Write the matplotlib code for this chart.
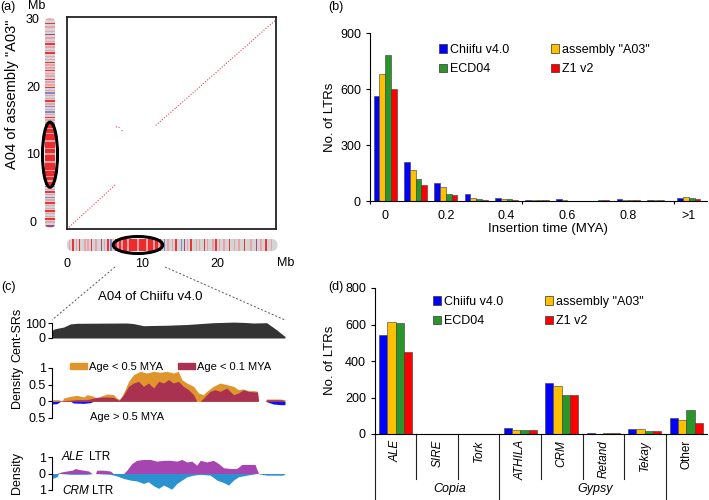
import matplotlib
matplotlib.use("Agg")
import matplotlib.pyplot as plt
import matplotlib.transforms as mtransforms
from matplotlib.patches import FancyBboxPatch, Ellipse, Patch
from matplotlib.lines import Line2D

# ---------------- data ----------------
# (a) collinear blocks: Chiifu v4.0 A04 (x, Mb) vs assembly "A03" A04 (y, Mb)
blk_chiifu_start = [0.0, 6.5, 7.3, 11.8, 14.5]
blk_chiifu_end = [6.4, 7.0, 7.4, 14.5, 27.8]
blk_a03_start = [0.0, 15.1, 14.6, 15.3, 17.9]
blk_a03_end = [6.5, 15.0, 14.3, 17.9, 30.9]

# ideogram bands (Mb) and class: r = young, p = mid, b = old, m = mixed
a03_core = (5.6, 14.6)
a03_band_pos = [30.0, 29.4, 28.9, 28.3, 27.8, 27.3, 26.8, 26.4, 26.0, 25.5, 25.1, 24.6,
                24.1, 23.7, 23.3, 22.9, 22.5, 22.1, 21.7, 21.2, 20.8, 20.4, 20.0, 19.6,
                19.2, 18.8, 18.4, 18.0, 17.6, 17.2, 16.8, 16.4, 16.0, 15.6, 15.2, 14.8,
                14.0, 13.2, 12.1, 11.0, 10.2, 9.0, 7.8, 6.9, 6.2,
                5.4, 5.0, 4.6, 4.2, 3.8, 3.4, 3.0, 2.6, 2.2, 1.8, 1.4, 1.0, 0.6, 0.2, -0.4]
a03_band_cls = ['p', 'r', 'p', 'p', 'm', 'p', 'p', 'r', 'p', 'p', 'r', 'p',
                'p', 'r', 'p', 'p', 'r', 'p', 'p', 'r', 'p', 'p', 'r', 'p',
                'b', 'p', 'p', 'r', 'p', 'b', 'p', 'b', 'p', 'r', 'p', 'p',
                'p', 'p', 'p', 'p', 'p', 'p', 'p', 'p', 'p',
                'b', 'p', 'r', 'p', 'b', 'p', 'r', 'p', 'p', 'r', 'p', 'p', 'r', 'p', 'm']

chiifu_core = (6.3, 12.5)
chiifu_band_pos = [0.27, 0.7, 1.2, 1.6, 2.3, 2.7, 3.2, 3.8, 4.5, 4.9, 5.4, 5.8,
                   6.7, 7.3, 8.1, 9.4, 10.6, 11.5, 12.2,
                   12.9, 13.4, 14.0, 14.5, 15.2, 15.6, 16.0, 16.5, 17.2, 17.6, 18.3, 18.7,
                   19.4, 19.8, 20.3, 20.9, 21.6, 22.3, 22.9, 23.6, 24.5, 25.2, 25.8, 26.5, 27.2]
chiifu_band_cls = ['p', 'r', 'p', 'r', 'p', 'p', 'r', 'p', 'm', 'p', 'r', 'b',
                   'p', 'p', 'p', 'p', 'p', 'p', 'p',
                   'b', 'p', 'p', 'r', 'b', 'm', 'p', 'r', 'p', 'p', 'r', 'p',
                   'p', 'r', 'p', 'p', 'r', 'p', 'p', 'r', 'p', 'm', 'p', 'r', 'p']
a03_ticks = [0, 10, 20, 30]
chiifu_ticks = [0, 10, 20]

# (b) insertion time histogram
time_labels = ['0', '', '0.2', '', '0.4', '', '0.6', '', '0.8', '', '>1']
ins_chiifu = [560, 211, 96, 38, 18, 4, 11, 2, 11, 4, 16]
ins_a03 = [680, 166, 77, 16, 11, 3, 3, 2, 5, 3, 21]
ins_ecd04 = [780, 118, 38, 11, 9, 3, 2, 4, 4, 3, 14]
ins_z1 = [600, 84, 32, 7, 5, 3, 2, 4, 3, 2, 12]

# (c) region around the A04 centromere of Chiifu v4.0 (Mb)
cent_x = [5.90, 5.99, 6.23, 6.42, 6.61, 7.27, 8.02, 8.21, 8.49, 8.87, 9.15, 9.72,
          10.47, 11.04, 11.32, 11.61, 11.98, 12.26, 12.50]
cent_y = [52, 62, 73, 94, 98, 99, 100, 96, 82, 84, 85, 90, 102, 106, 104, 100, 102, 55, 10]

young05_x = [5.90, 6.09, 6.18, 6.23, 6.42, 6.61, 6.80, 6.89, 7.03, 7.17, 7.27, 7.46, 7.64,
             7.74, 7.83, 7.97, 8.07, 8.21, 8.40, 8.59, 8.78, 8.96, 9.15, 9.34, 9.48, 9.58,
             9.72, 9.91, 10.05, 10.19, 10.28, 10.47, 10.66, 10.85, 11.04, 11.18, 11.32,
             11.46, 11.65, 11.72, 11.75, 11.95, 11.98, 12.36, 12.50]
young05_y = [0.05, 0.05, 0.0, 0.1, 0.15, 0.18, 0.13, 0.2, 0.17, 0.1, 0.15, 0.22, 0.2,
             0.1, 0.05, 0.35, 0.6, 0.8, 0.9, 0.85, 0.9, 0.87, 0.9, 0.85, 0.9, 0.65,
             0.55, 0.45, 0.25, 0.2, 0.3, 0.45, 0.55, 0.5, 0.45, 0.35, 0.37,
             0.32, 0.32, 0.3, 0.0, 0.0, 0.07, 0.07, 0.05]
young01_x = [5.90, 6.23, 6.61, 6.89, 7.17, 7.46, 7.64, 7.79, 7.93, 8.07, 8.21, 8.35, 8.49,
             8.63, 8.78, 8.92, 9.06, 9.20, 9.34, 9.48, 9.62, 9.77, 9.91, 10.00, 10.10,
             10.24, 10.38, 10.52, 10.66, 10.85, 11.04, 11.18, 11.32, 11.46, 11.65, 11.72,
             11.75, 11.95, 11.98, 12.41, 12.50]
young01_y = [0.0, 0.02, 0.05, 0.05, 0.12, 0.13, 0.12, 0.03, 0.2, 0.45, 0.55, 0.6, 0.45,
             0.55, 0.4, 0.6, 0.55, 0.65, 0.55, 0.6, 0.45, 0.35, 0.2, 0.0, 0.0,
             0.15, 0.3, 0.35, 0.3, 0.4, 0.2, 0.25, 0.35, 0.3, 0.28, 0.28,
             0.0, 0.0, 0.05, 0.05, 0.0]
old_x = [5.90, 6.04, 6.14, 6.42, 6.51, 6.80, 6.98, 7.08, 11.95, 12.17, 12.36, 12.50]
old_y = [-0.08, -0.07, 0.0, 0.0, -0.05, -0.06, -0.04, 0.0, 0.0, -0.08, -0.1, -0.1]

ale_x = [5.90, 6.04, 6.18, 6.32, 6.47, 6.56, 6.65, 6.80, 6.94, 7.03, 7.13, 7.17, 7.36,
         7.55, 7.64, 7.93, 8.02, 8.16, 8.30, 8.49, 8.68, 8.87, 9.06, 9.25, 9.44, 9.58,
         9.72, 9.86, 10.00, 10.10, 10.28, 10.47, 10.62, 10.76, 10.95, 11.13, 11.28,
         11.51, 11.65, 11.75, 12.50]
ale_y = [0.0, 0.0, 0.1, 0.15, 0.2, 0.3, 0.25, 0.2, 0.15, 0.0, 0.0, 0.2, 0.2,
         0.15, 0.0, 0.0, 0.2, 0.6, 0.8, 0.85, 0.85, 0.75, 0.8, 0.8, 0.75, 0.85,
         0.7, 0.75, 0.5, 0.8, 0.7, 0.8, 0.6, 0.35, 0.3, 0.3, 0.55,
         0.55, 0.55, 0.0, 0.0]
crm_x = [5.90, 6.04, 6.09, 6.14, 6.42, 6.89, 7.08, 7.55, 7.74, 7.93, 8.12, 8.30, 8.49,
         8.63, 8.78, 8.92, 9.06, 9.20, 9.29, 9.44, 9.58, 9.72, 9.91, 10.10, 10.38,
         10.57, 10.76, 10.90, 11.04, 11.18, 11.42, 11.70, 11.98, 12.45, 12.50]
crm_y = [-0.3, -0.2, 0.0, 0.0, -0.05, -0.05, 0.0, -0.05, -0.15, -0.3, -0.4, -0.45, -0.6,
         -0.5, -0.75, -0.9, -0.7, -0.85, -0.95, -0.6, -0.4, -0.2, -0.1, -0.05, -0.1,
         -0.4, -0.55, -0.7, -0.4, -0.2, -0.1, 0.0, -0.1, -0.1, 0.0]

# (d) LTR lineages
lineages = ['ALE', 'SIRE', 'Tork', 'ATHILA', 'CRM', 'Retand', 'Tekay', 'Other']
lineage_family = ['Copia', 'Copia', 'Copia', 'Gypsy', 'Gypsy', 'Gypsy', 'Gypsy', '']
lin_chiifu = [540, 2, 0, 32, 282, 6, 27, 90]
lin_a03 = [614, 0, 0, 21, 262, 2, 27, 75]
lin_ecd04 = [607, 0, 2, 24, 216, 4, 14, 132]
lin_z1 = [452, 0, 0, 22, 216, 3, 17, 62]

assemblies = ['Chiifu v4.0', 'assembly "A03"', 'ECD04', 'Z1 v2']
asm_colors = ['#0000ff', '#ffc000', '#2a962a', '#ff0000']
band_colors = {'r': '#ea3438', 'p': '#eaa2a8', 'b': '#8585cc', 'm': '#a04a82'}

# ---------------- figure ----------------
plt.rcParams['font.family'] = ['Liberation Sans', 'DejaVu Sans']
plt.rcParams['font.size'] = 9
plt.rcParams['axes.linewidth'] = 0.8
plt.rcParams['xtick.major.width'] = 0.8
plt.rcParams['ytick.major.width'] = 0.8

W, H = 709, 500
fig = plt.figure(figsize=(W / 100, H / 100), dpi=100)


def px_axes(left, top, right, bottom):
    return fig.add_axes([left / W, 1 - bottom / H, (right - left) / W, (bottom - top) / H])


def ftext(x, y, s, **kw):
    kw.setdefault('ha', 'center')
    kw.setdefault('va', 'center')
    fig.text(x / W, 1 - y / H, s, **kw)


# ---- (a) dot plot ----
ax_dot = px_axes(67, 17, 276, 229)
for xs, xe, ys, ye in zip(blk_chiifu_start, blk_chiifu_end, blk_a03_start, blk_a03_end):
    ax_dot.plot([xs, xe], [ys, ye], color='#e84450', lw=0.8, ls=(0, (1, 1.5)))
ax_dot.set_xlim(0, 27.8)
ax_dot.set_ylim(0, 31.3)
ax_dot.set_xticks([])
ax_dot.set_yticks([])
for sp in ax_dot.spines.values():
    sp.set_linewidth(1.3)
    sp.set_color('#222222')

# vertical ideogram (assembly "A03")
ax_iv = px_axes(40, 17, 60, 230)
ax_iv.set_xlim(0, 1)
ax_iv.set_ylim(-1.0, 30.4)
ax_iv.axis('off')
asp_v = (20 / 1.0) / (213 / 31.4)
body_v = FancyBboxPatch((0.25, -0.7), 0.5, 31.0, boxstyle='round,pad=0,rounding_size=0.25',
                        mutation_aspect=asp_v, fc='#d4d4d4', ec='none')
ax_iv.add_patch(body_v)
core_v = ax_iv.barh([(a03_core[0] + a03_core[1]) / 2], 1, height=a03_core[1] - a03_core[0],
                    left=0, color='#ee2a2a')
bands_v = ax_iv.barh(a03_band_pos, 1, height=0.2, left=0,
                     color=[band_colors[c] for c in a03_band_cls])
for art in list(core_v) + list(bands_v):
    art.set_clip_path(body_v)
ax_iv.add_patch(Ellipse((0.5, (a03_core[0] + a03_core[1]) / 2), 0.75, a03_core[1] - a03_core[0] + 0.6,
                        fill=False, ec='black', lw=2.2))
tr_v = mtransforms.blended_transform_factory(ax_iv.transAxes, ax_iv.transData)
for v in a03_ticks:
    ax_iv.text(-0.35, v, str(v), transform=tr_v, ha='center', va='center', fontsize=9)

# horizontal ideogram (Chiifu v4.0)
ax_ih = px_axes(66, 235, 279, 255)
ax_ih.set_xlim(-0.2, 28.2)
ax_ih.set_ylim(0, 1)
for sp in ax_ih.spines.values():
    sp.set_visible(False)
ax_ih.set_yticks([])
ax_ih.set_xticks(chiifu_ticks)
ax_ih.tick_params(axis='x', length=0, pad=2.5, labelsize=9)
asp_h = (213 / 28.4) / 20
body_h = FancyBboxPatch((-0.1, 0.2), 28.1, 0.6, boxstyle='round,pad=0,rounding_size=0.8',
                        mutation_aspect=asp_h, fc='#d4d4d4', ec='none')
ax_ih.add_patch(body_h)
core_h = ax_ih.bar([(chiifu_core[0] + chiifu_core[1]) / 2], 1, width=chiifu_core[1] - chiifu_core[0],
                   bottom=0, color='#ee2a2a')
bands_h = ax_ih.bar(chiifu_band_pos, 1, width=0.2, bottom=0,
                    color=[band_colors[c] for c in chiifu_band_cls])
for art in list(core_h) + list(bands_h):
    art.set_clip_path(body_h)
ax_ih.add_patch(Ellipse(((chiifu_core[0] + chiifu_core[1]) / 2, 0.5), chiifu_core[1] - chiifu_core[0] + 0.4,
                        0.85, fill=False, ec='black', lw=2.2, clip_on=False))

ftext(8, 7, '(a)')
ftext(37, 6, 'Mb')
ftext(286, 263, 'Mb')
ftext(12, 94, 'A04 of assembly "A03"', rotation=90, fontsize=10.5)

# zoom lines towards (c)
fig.add_artist(Line2D([115 / W, 52 / W], [1 - 267 / H, 1 - 320 / H], transform=fig.transFigure,
                      color='#555555', lw=0.7, ls=(0, (2, 2))))
fig.add_artist(Line2D([165 / W, 285 / W], [1 - 267 / H, 1 - 320 / H], transform=fig.transFigure,
                      color='#555555', lw=0.7, ls=(0, (2, 2))))

# ---- (c) ----
ftext(8, 287, '(c)')
ftext(150, 297, 'A04 of Chiifu v4.0', fontsize=9.5)


def left_only(ax):
    for s in ['top', 'right', 'bottom']:
        ax.spines[s].set_visible(False)
    ax.set_xticks([])
    ax.set_xlim(5.9, 12.5)
    ax.tick_params(axis='y', length=3, pad=1.5, labelsize=9)


ax_c1 = px_axes(52, 320, 285, 338)
ax_c1.fill_between(cent_x, 0, cent_y, color='#343434', lw=0)
left_only(ax_c1)
ax_c1.set_ylim(0, 120)
ax_c1.set_yticks([0, 100])
ax_c1.spines['left'].set_bounds(0, 100)
ax_c1.set_ylabel('Cent-SRs', fontsize=9)
ax_c1.yaxis.set_label_coords(-0.124, 0.2)

ax_c2 = px_axes(52, 368, 285, 418)
ax_c2.fill_between(young05_x, 0, young05_y, color='#e0952c', lw=0)
ax_c2.fill_between(young01_x, 0, young01_y, color='#a83250', lw=0)
ax_c2.fill_between(old_x, 0, old_y, color='#0a10ff', lw=0)
left_only(ax_c2)
ax_c2.set_ylim(-0.5, 1)
ax_c2.set_yticks([-0.5, 0, 0.5, 1])
ax_c2.set_yticklabels(['0.5', '0', '0.5', '1'])
ax_c2.set_ylabel('Density', fontsize=9)
ax_c2.yaxis.set_label_coords(-0.124, 0.62)
ax_c2.legend(handles=[Patch(color='#e0952c', label='Age < 0.5 MYA'),
                      Patch(color='#a83250', label='Age < 0.1 MYA')],
             loc='center left', bbox_to_anchor=(70 / W, 1 - 367 / H), bbox_transform=fig.transFigure,
             ncol=2, frameon=False, fontsize=8, borderpad=0, borderaxespad=0,
             handlelength=1.5, handleheight=0.5, handletextpad=0.25, columnspacing=1.3)
ftext(90, 417, 'Age > 0.5 MYA', ha='left', fontsize=8)

ax_c3 = px_axes(52, 457, 285, 490)
ax_c3.fill_between(ale_x, 0, ale_y, color='#a645b2', lw=0)
ax_c3.fill_between(crm_x, 0, crm_y, color='#2a92cf', lw=0)
left_only(ax_c3)
ax_c3.set_ylim(-1, 1)
ax_c3.set_yticks([-1, 0, 1])
ax_c3.set_yticklabels(['1', '0', '1'])
ax_c3.set_ylabel('Density', fontsize=9)
ax_c3.yaxis.set_label_coords(-0.124, 0.515)
ftext(62, 457, 'ALE', ha='left', style='italic', fontsize=8.5)
ftext(89, 457, 'LTR', ha='left', fontsize=8.5)
ftext(62, 491, 'CRM', ha='left', style='italic', fontsize=8.5)
ftext(92, 491, 'LTR', ha='left', fontsize=8.5)


# ---- bar chart helper ----
def grouped_bars(ax, series, width):
    n = len(series[0])
    for k, (vals, col) in enumerate(zip(series, asm_colors)):
        ax.bar([g + (k - 1.5) * width for g in range(n)], vals, width=width,
               color=col, edgecolor='#3a3a3a', linewidth=0.4)
    for s in ['top', 'right']:
        ax.spines[s].set_visible(False)
    ax.tick_params(axis='y', direction='out', length=3, labelsize=9)


def asm_legend(ax, anchor):
    handles = [Patch(fc=c, ec='#333333', lw=0.5, label=l) for c, l in zip(asm_colors, assemblies)]
    order = [0, 2, 1, 3]
    ax.legend(handles=[handles[i] for i in order], loc='upper left', bbox_to_anchor=anchor,
              bbox_transform=fig.transFigure, ncol=2, frameon=False, fontsize=9,
              borderpad=0, borderaxespad=0, handlelength=0.65, handleheight=0.65,
              handletextpad=0.25, columnspacing=3.3, labelspacing=0.6)


# ---- (b) ----
ax_b = px_axes(370, 33, 707, 201)
grouped_bars(ax_b, [ins_chiifu, ins_a03, ins_ecd04, ins_z1], 0.19)
ax_b.set_xlim(-0.5, 10.6)
ax_b.set_ylim(0, 900)
ax_b.set_yticks([0, 300, 600, 900])
ax_b.set_xticks(range(len(time_labels)))
ax_b.set_xticklabels(time_labels)
ax_b.set_xticks([-0.5, 4.5, 9.5], minor=True)
ax_b.tick_params(axis='x', which='major', length=0, pad=6.5, labelsize=9)
ax_b.tick_params(axis='x', which='minor', length=2.5, width=0.8)
ax_b.set_xlabel('Insertion time (MYA)', fontsize=9.5)
ax_b.xaxis.set_label_coords(0.528, -0.13)
ax_b.set_ylabel('No. of LTRs', fontsize=9.5)
ax_b.yaxis.set_label_coords(-0.10, 0.5)
asm_legend(ax_b, (439 / W, 1 - 44 / H))
ftext(336, 7, '(b)')

# ---- (d) ----
ax_d = px_axes(375, 288, 707, 434)
grouped_bars(ax_d, [lin_chiifu, lin_a03, lin_ecd04, lin_z1], 0.2)
ax_d.set_xlim(-0.5, 7.5)
ax_d.set_ylim(0, 800)
ax_d.set_yticks([0, 200, 400, 600, 800])
ax_d.set_xticks([])
ax_d.set_ylabel('No. of LTRs', fontsize=9.5)
ax_d.yaxis.set_label_coords(-0.117, 0.507)
asm_legend(ax_d, (433 / W, 1 - 296 / H))
tr_d = mtransforms.blended_transform_factory(ax_d.transData, ax_d.transAxes)
for i, name in enumerate(lineages):
    ax_d.text(i, -0.04, name, transform=tr_d, rotation=90, ha='center', va='top',
              fontsize=8.5, style='normal' if name == 'Other' else 'italic')
    new_family = i == 0 or lineage_family[i] != lineage_family[i - 1]
    ax_d.plot([i - 0.5, i - 0.5], [0, -0.46 if new_family else -0.31], transform=tr_d,
              color='#222222', lw=0.8, clip_on=False)
for fam in ['Copia', 'Gypsy']:
    idx = [i for i, f in enumerate(lineage_family) if f == fam]
    ax_d.text(sum(idx) / len(idx) + 0.3, -0.38, fam, transform=tr_d, ha='center', va='center',
              fontsize=9, style='italic')
ftext(336, 287, '(d)')

fig.savefig('out.png', dpi=100)
